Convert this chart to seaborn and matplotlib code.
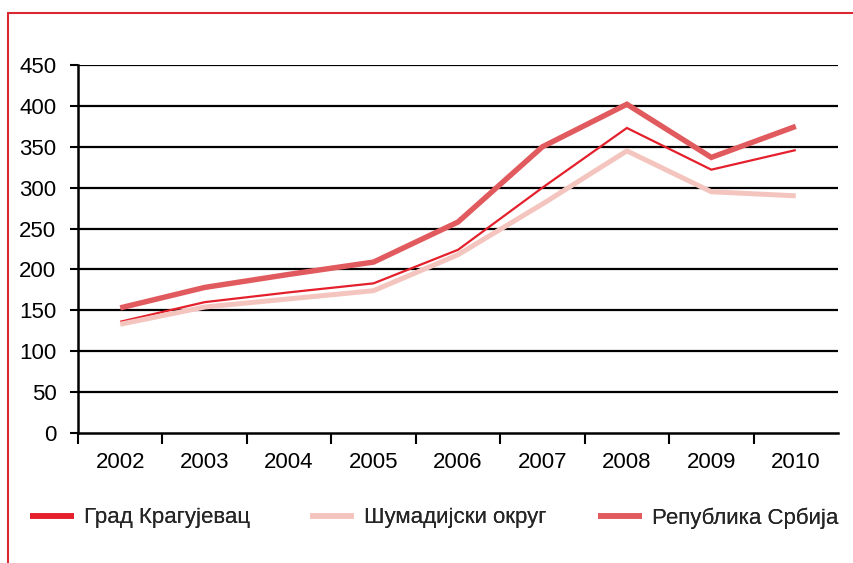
import matplotlib
matplotlib.use("Agg")
import matplotlib.pyplot as plt
from matplotlib.lines import Line2D
import seaborn as sns
import pandas as pd
import numpy as np

years = ["2002", "2003", "2004", "2005", "2006", "2007", "2008", "2009", "2010"]
kragujevac = [136, 160, 172, 183, 224, 300, 373, 322, 346]
sumadija = [133, 154, 164, 174, 218, 280, 345, 295, 290]
srbija = [153, 178, 194, 209, 258, 350, 402, 337, 375]
series_names = ["Град Крагујевац", "Шумадијски округ", "Република Србија"]
y_ticks = [0, 50, 100, 150, 200, 250, 300, 350, 400, 450]

colors = ["#E4202C", "#F4C5BF", "#E15A5E"]
widths = [1.6, 3.6, 3.9]

sns.set_theme(style="white")
plt.rcParams['font.family'] = ['Liberation Sans', 'DejaVu Sans']

fig = plt.figure(figsize=(8.54, 5.63), dpi=100)
ax = fig.add_axes([78/854, 1-433/563, (838-78)/854, (433-65)/563])

x = np.arange(len(years))
for name, vals, c, w in zip(series_names, [kragujevac, sumadija, srbija], colors, widths):
    df = pd.DataFrame({"x": x, "y": vals})
    sns.lineplot(data=df, x="x", y="y", ax=ax, color=c, linewidth=w, label=name,
                 solid_capstyle="butt", solid_joinstyle="miter")

ax.set_xlim(-0.5, len(years) - 0.5)
ax.set_ylim(0, 450)
ax.set_yticks(y_ticks)
ax.set_yticklabels([str(t) for t in y_ticks], fontsize=16, color="black")
for t in y_ticks[1:]:
    ax.axhline(t, color="black", linewidth=1.6, zorder=0)

ax.set_xticks(np.arange(-0.5, len(years) - 0.5, 1))
ax.set_xticklabels([])
ax.set_xticks(x, minor=True)
ax.set_xticklabels(years, minor=True, fontsize=16, color="black")
ax.tick_params(axis="x", which="major", length=8, width=1.5, color="black", direction="out", bottom=True)
ax.tick_params(axis="x", which="minor", length=0, pad=14)
ax.tick_params(axis="y", length=5.5, width=1.5, color="black", direction="out", left=True, pad=10)
ax.set_xlabel("")
ax.set_ylabel("")

for s in ["top", "right"]:
    ax.spines[s].set_visible(False)
ax.spines["left"].set_color("black")
ax.spines["left"].set_linewidth(1.8)
ax.spines["bottom"].set_color("black")
ax.spines["bottom"].set_linewidth(1.8)

ax.get_legend().remove()
legend_x = [30, 310, 598]
for name, c, lx in zip(series_names, colors, legend_x):
    h = Line2D([0], [0], color=c, linewidth=4.0, solid_capstyle="butt")
    lg = fig.legend([h], [name], loc="center left", bbox_to_anchor=(lx/854, 1-518/563),
                    frameon=False, handlelength=2.0, handletextpad=0.45,
                    borderpad=0, borderaxespad=0, prop={'size': 16})
    fig.add_artist(lg)

fig.add_artist(Line2D([8/854, 8/854], [0, 1-13/563], transform=fig.transFigure, color="#D9282F", linewidth=1.5))
fig.add_artist(Line2D([8/854, 1], [1-13/563, 1-13/563], transform=fig.transFigure, color="#D9282F", linewidth=1.5))

fig.savefig("out.png", dpi=100)
